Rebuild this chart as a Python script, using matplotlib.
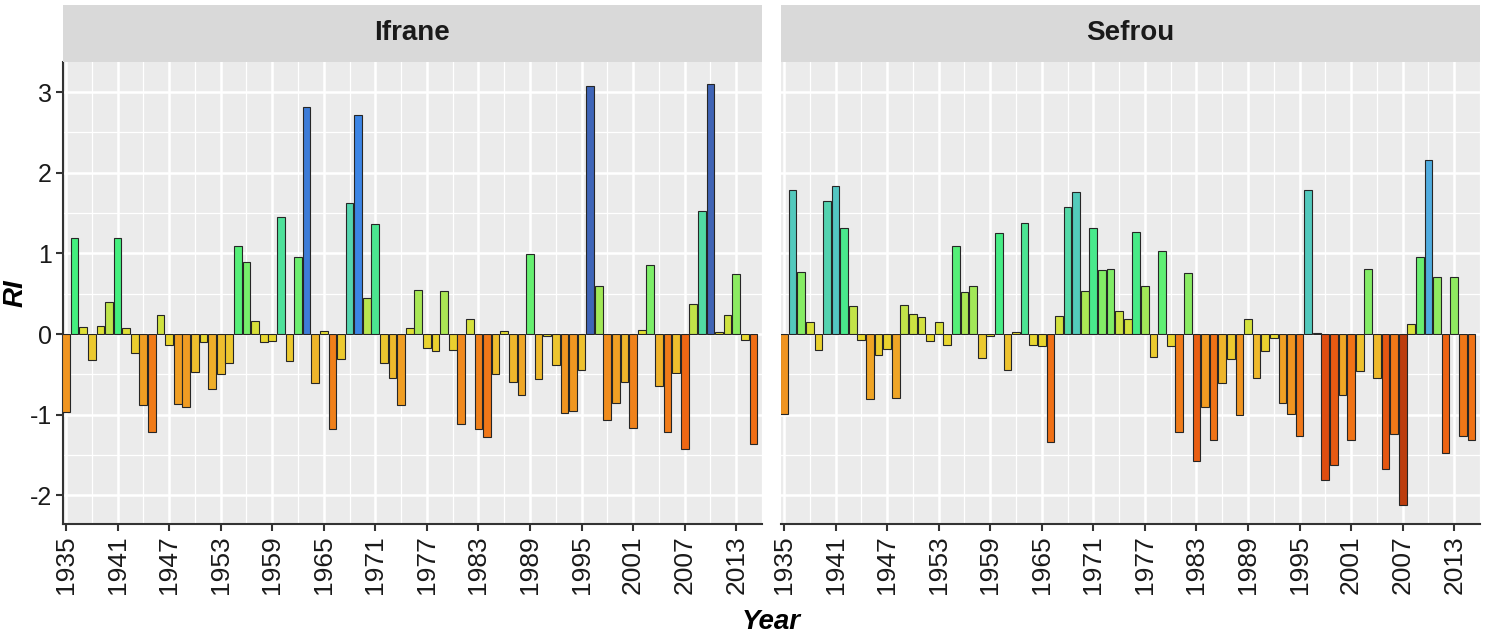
import numpy as np
import matplotlib
matplotlib.use("Agg")
import matplotlib.pyplot as plt
from matplotlib.colors import LinearSegmentedColormap, Normalize

plt.rcParams['font.family'] = ['Liberation Sans', 'DejaVu Sans']

years = list(range(1935, 2016))

ifrane = [-0.97, 1.19, 0.09, -0.32, 0.10, 0.40, 1.19, 0.08, -0.24, -0.88,
          -1.22, 0.24, -0.14, -0.87, -0.90, -0.47, -0.10, -0.68, -0.49, -0.36,
          1.09, 0.89, 0.16, -0.10, -0.09, 1.45, -0.34, 0.95, 2.81, -0.61,
          0.04, -1.18, -0.31, 1.63, 2.71, 0.45, 1.36, -0.36, -0.55, -0.88,
          0.08, 0.54, -0.17, -0.21, 0.53, -0.20, -1.11, 0.19, -1.18, -1.28,
          -0.49, 0.04, -0.59, -0.76, 0.99, -0.56, -0.03, -0.39, -0.98, -0.95,
          -0.45, 3.07, 0.60, -1.06, -0.86, -0.60, -1.17, 0.05, 0.85, -0.64,
          -1.22, -0.48, -1.43, 0.37, 1.53, 3.10, 0.03, 0.23, 0.74, -0.08,
          -1.36]

sefrou = [-0.99, 1.79, 0.77, 0.15, -0.20, 1.65, 1.83, 1.32, 0.35, -0.07,
          -0.81, -0.26, -0.18, -0.79, 0.36, 0.25, 0.21, -0.09, 0.15, -0.13,
          1.09, 0.52, 0.59, -0.30, -0.03, 1.25, -0.44, 0.03, 1.38, -0.13,
          -0.15, -1.34, 0.22, 1.58, 1.76, 0.53, 1.32, 0.79, 0.81, 0.28,
          0.19, 1.27, 0.60, -0.29, 1.03, -0.15, -1.22, 0.76, -1.57, -0.91,
          -1.31, -0.61, -0.31, -1.00, 0.19, -0.55, -0.21, -0.05, -0.86, -0.99,
          -1.27, 1.79, 0.01, -1.81, -1.62, -0.76, -1.31, -0.46, 0.80, -0.55,
          -1.67, -1.24, -2.12, 0.13, 0.96, 2.16, 0.71, -1.47, 0.71, -1.26,
          -1.31]

stations = ["Ifrane", "Sefrou"]
series = [ifrane, sefrou]
year_ticks = list(range(1935, 2016, 6))

# fill gradient (value anchors -> colours)
anchor_vals = [-2.2, -1.8, -1.4, -1.0, -0.5, 0.0, 0.4, 0.9, 1.2, 1.6, 2.1, 2.7, 3.15]
anchor_cols = ["#B53A0E", "#E04E10", "#F06A14", "#F09420", "#EEBE2E", "#E8DE30",
               "#BEE44C", "#74EE6C", "#44F07E", "#54D8AA", "#52B0DE", "#3C86E6", "#4060B0"]
vmin, vmax = anchor_vals[0], anchor_vals[-1]
pos = [(v - vmin) / (vmax - vmin) for v in anchor_vals]
cmap = LinearSegmentedColormap.from_list("ri", list(zip(pos, anchor_cols)))
norm = Normalize(vmin, vmax)

W, H = 1492, 642
fig = plt.figure(figsize=(W / 100, H / 100), dpi=100)

panel_left = [63, 781]
panel_w = 699
panel_top, panel_bot = 62, 524
strip_top = 5

for i, (name, vals) in enumerate(zip(stations, series)):
    ax = fig.add_axes([panel_left[i] / W, 1 - panel_bot / H, panel_w / W, (panel_bot - panel_top) / H])
    ax.set_facecolor("#EBEBEB")
    ax.bar(years, vals, width=0.9, color=cmap(norm(np.array(vals))),
           edgecolor="#262626", linewidth=0.8, zorder=3)
    ax.set_xlim(1934.65, 2015.46)
    ax.set_ylim(-2.355, 3.372)
    ax.set_xticks(year_ticks)
    ax.set_xticks([y + 3 for y in year_ticks], minor=True)
    ax.set_yticks([-2, -1, 0, 1, 2, 3])
    ax.set_yticks([-1.5, -0.5, 0.5, 1.5, 2.5], minor=True)
    ax.grid(which="major", color="white", linewidth=1.8, zorder=0)
    ax.grid(which="minor", color="white", linewidth=0.9, zorder=0)
    ax.set_axisbelow(True)
    ax.set_xticklabels([str(y) for y in year_ticks], rotation=90, fontsize=19, color="#1a1a1a")
    ax.tick_params(axis="x", which="major", length=5, width=1.5, color="#333333", pad=3)
    ax.tick_params(axis="x", which="minor", length=0)
    for s in ["top", "right"]:
        ax.spines[s].set_visible(False)
    ax.spines["bottom"].set_color("#333333")
    ax.spines["bottom"].set_linewidth(1.5)
    if i == 0:
        ax.spines["left"].set_color("#333333")
        ax.spines["left"].set_linewidth(1.5)
        ax.set_yticklabels(["-2", "-1", "0", "1", "2", "3"], fontsize=18, color="#1a1a1a")
        ax.tick_params(axis="y", which="major", length=5, width=1.5, color="#333333", pad=3)
        ax.tick_params(axis="y", which="minor", length=0)
    else:
        ax.spines["left"].set_visible(False)
        ax.tick_params(axis="y", which="both", length=0, labelleft=False)

    sax = fig.add_axes([panel_left[i] / W, 1 - panel_top / H, panel_w / W, (panel_top - strip_top) / H])
    sax.set_facecolor("#D9D9D9")
    sax.set_xticks([])
    sax.set_yticks([])
    for s in sax.spines.values():
        s.set_visible(False)
    sax.text(0.5, 0.5, name, ha="center", va="center", fontsize=20, fontweight="bold",
             color="#1a1a1a", transform=sax.transAxes)

fig.text(16 / W, 1 - 293 / H, "RI", ha="center", va="center", rotation=90,
         fontsize=20, fontweight="bold", fontstyle="italic")
fig.text((63 + 1480) / 2 / W, 1 - 622 / H, "Year", ha="center", va="center",
         fontsize=20, fontweight="bold", fontstyle="italic")

fig.savefig("out.png", dpi=100)
